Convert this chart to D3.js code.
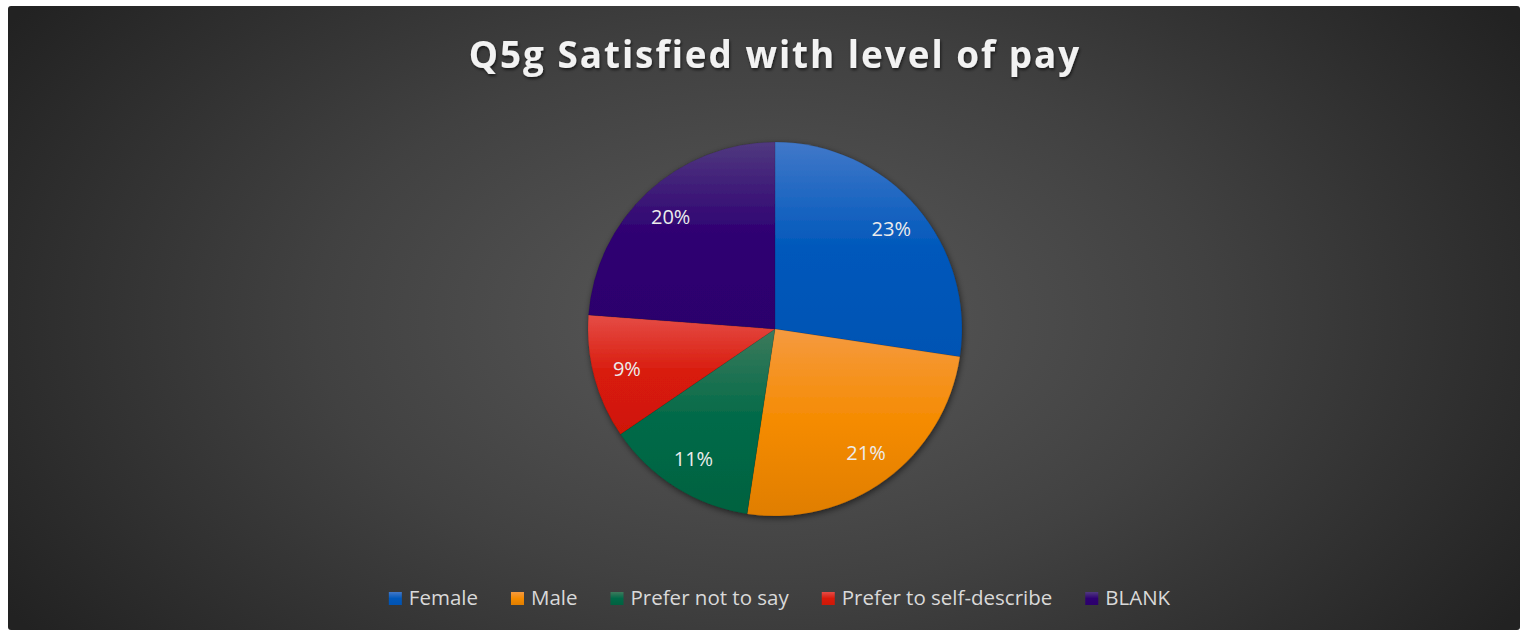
<!DOCTYPE html>
<html><head><meta charset="utf-8">
<script src="https://cdn.jsdelivr.net/npm/d3@7"></script>
<style>html,body{margin:0;padding:0;background:#fff;}svg{display:block;}</style>
</head><body>
<svg id="chart" width="1520" height="630"></svg>
<script>
const title = "Q5g Satisfied with level of pay";
const categories = ["Female", "Male", "Prefer not to say", "Prefer to self-describe", "BLANK"];
const values = [23, 21, 11, 9, 20];
const labels = ["23%", "21%", "11%", "9%", "20%"];
const colorsBase = ["#0058bb", "#f58b00", "#006a48", "#d81a0b", "#2e0072"];
const colorsTop = ["#4178c9", "#f59a40", "#3d7a5c", "#e54c46", "#50397f"];
const colorsBottom = ["#0053b3", "#e07e00", "#006240", "#cf1806", "#2c006c"];

const svg = d3.select("#chart");
const defs = svg.append("defs");

// Background radial gradient
const bg = defs.append("radialGradient").attr("id", "bg")
  .attr("gradientUnits", "userSpaceOnUse")
  .attr("cx", 764).attr("cy", 318).attr("r", 900)
  .attr("gradientTransform", "translate(764,318) scale(1,0.6) translate(-764,-318)");
bg.append("stop").attr("offset", 0).attr("stop-color", "#5a5a5a");
bg.append("stop").attr("offset", 0.5).attr("stop-color", "#414141");
bg.append("stop").attr("offset", 1).attr("stop-color", "#222222");

svg.append("rect").attr("x", 8).attr("y", 6).attr("width", 1520 - 8).attr("height", 630 - 6)
  .attr("rx", 3).attr("fill", "url(#bg)");

// Slice gradients
categories.forEach((c, i) => {
  const g = defs.append("linearGradient").attr("id", "g" + i)
    .attr("x1", 0).attr("y1", 0).attr("x2", 0).attr("y2", 1);
  g.append("stop").attr("offset", 0).attr("stop-color", colorsTop[i]);
  g.append("stop").attr("offset", 0.5).attr("stop-color", colorsBase[i]);
  g.append("stop").attr("offset", 1).attr("stop-color", colorsBottom[i]);
});

// Shadows
const sh = defs.append("filter").attr("id", "shadow").attr("x", "-20%").attr("y", "-20%").attr("width", "140%").attr("height", "140%");
sh.append("feDropShadow").attr("dx", 1).attr("dy", 2).attr("stdDeviation", 3).attr("flood-color", "#000").attr("flood-opacity", 0.55);
const tsh = defs.append("filter").attr("id", "tshadow").attr("x", "-10%").attr("y", "-30%").attr("width", "120%").attr("height", "160%");
tsh.append("feDropShadow").attr("dx", 1).attr("dy", 2).attr("stdDeviation", 1.5).attr("flood-color", "#000").attr("flood-opacity", 0.6);

// Title
const titleText = svg.append("text")
  .attr("x", 775).attr("y", 68)
  .attr("text-anchor", "middle")
  .attr("font-family", "'Open Sans', sans-serif")
  .attr("font-weight", "bold")
  .attr("font-size", 36)
  .attr("letter-spacing", 2)
  .attr("fill", "#f2f2f2")
  .attr("filter", "url(#tshadow)")
  .text(title);
{
  const w = titleText.node().getComputedTextLength();
  const target = 614;
  if (w > 0) {
    const fs = 36 * target / w;
    titleText.attr("font-size", Math.min(40, Math.max(28, fs)));
  }
}

// Pie
const cx = 775, cy = 329, r = 187;
const pie = d3.pie().sort(null).value(d => d);
const arcs = pie(values);
const arc = d3.arc().innerRadius(0).outerRadius(r);
const labelArc = d3.arc().innerRadius(r * 0.82).outerRadius(r * 0.82);

const g = svg.append("g").attr("transform", `translate(${cx},${cy})`);
const sliceG = g.append("g").attr("filter", "url(#shadow)");
sliceG.selectAll("path").data(arcs).join("path")
  .attr("d", arc)
  .attr("fill", (d, i) => `url(#g${i})`)
  .attr("stroke", "rgba(0,0,0,0.15)")
  .attr("stroke-width", 0.6);

g.selectAll("text.lbl").data(arcs).join("text")
  .attr("class", "lbl")
  .attr("transform", d => `translate(${labelArc.centroid(d)})`)
  .attr("text-anchor", "middle")
  .attr("dominant-baseline", "central")
  .attr("font-family", "'Open Sans', sans-serif")
  .attr("font-size", 20)
  .attr("fill", "#ececec")
  .text((d, i) => labels[i]);

// Legend
const legend = svg.append("g");
const items = legend.selectAll("g").data(categories).join("g");
items.append("rect").attr("width", 13).attr("height", 13).attr("y", -13)
  .attr("fill", (d, i) => `url(#g${i})`);
items.append("text").attr("x", 20).attr("y", 0)
  .attr("font-family", "'Open Sans', sans-serif")
  .attr("font-size", 20.5)
  .attr("fill", "#d9d9d9")
  .text(d => d);
let widths = [];
items.each(function () {
  widths.push(20 + d3.select(this).select("text").node().getComputedTextLength());
});
const gap = 33;
const total = d3.sum(widths) + gap * (widths.length - 1);
let x0 = 779.5 - total / 2;
items.attr("transform", (d, i) => {
  const t = `translate(${x0},605)`;
  x0 += widths[i] + gap;
  return t;
});
</script>
</body></html>
